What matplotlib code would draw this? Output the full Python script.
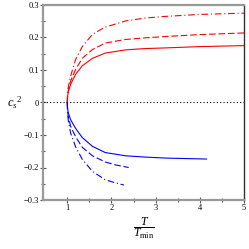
import matplotlib
matplotlib.use("Agg")
import matplotlib.pyplot as plt

plt.rcParams['mathtext.fontset'] = 'custom'
plt.rcParams['mathtext.rm'] = 'Liberation Serif'
plt.rcParams['mathtext.it'] = 'Liberation Serif:italic'
plt.rcParams['font.family'] = ['Liberation Serif', 'DejaVu Serif']

# Read-off data: T/Tmin and c_s^2
t_red = [1.0, 1.005, 1.02, 1.075, 1.19, 1.34, 1.57, 1.86, 2.32, 2.77, 3.23, 4.0, 5.0]
red_solid = [0.0, 0.016, 0.031, 0.056, 0.087, 0.113, 0.136, 0.152, 0.162, 0.166, 0.168, 0.172, 0.175]
red_dash = [0.0, 0.018, 0.035, 0.066, 0.102, 0.136, 0.163, 0.183, 0.194, 0.199, 0.203, 0.209, 0.214]
red_dashdot = [0.0, 0.022, 0.046, 0.081, 0.133, 0.172, 0.210, 0.232, 0.251, 0.260, 0.265, 0.271, 0.275]

t_blue_solid = [1.0, 1.005, 1.02, 1.075, 1.19, 1.34, 1.57, 1.86, 2.32, 2.77, 3.23, 4.15]
blue_solid = [0.0, -0.015, -0.031, -0.053, -0.080, -0.108, -0.135, -0.154, -0.164, -0.168, -0.171, -0.174]

t_blue_dash = [1.0, 1.005, 1.02, 1.075, 1.19, 1.34, 1.57, 1.86, 2.09, 2.39]
blue_dash = [0.0, -0.020, -0.042, -0.073, -0.106, -0.138, -0.164, -0.183, -0.192, -0.200]

t_blue_dashdot = [1.0, 1.005, 1.02, 1.075, 1.19, 1.34, 1.57, 1.86, 2.09, 2.28]
blue_dashdot = [0.0, -0.025, -0.053, -0.094, -0.137, -0.175, -0.212, -0.238, -0.247, -0.254]

x_ticks = [1, 2, 3, 4, 5]
y_ticks = [-0.3, -0.2, -0.1, 0, 0.1, 0.2, 0.3]
y_tick_labels = ['\u22120.3', '\u22120.2', '\u22120.1', '0', '0.1', '0.2', '0.3']

fig = plt.figure(figsize=(2.49, 2.49), dpi=100)
ax = fig.add_axes([43/249, 49/249, 201/249, 195/249])

lw = 0.8
dash = (0, (6, 2.5))
dashdot = (0, (6, 2.5, 1, 2.5))
ax.plot(t_red, red_solid, color='#ff0000', lw=lw)
ax.plot(t_red, red_dash, color='#ff0000', lw=lw, linestyle=dash)
ax.plot(t_red, red_dashdot, color='#ff0000', lw=lw, linestyle=dashdot)
ax.plot(t_blue_solid, blue_solid, color='#0000ff', lw=lw)
ax.plot(t_blue_dash, blue_dash, color='#0000ff', lw=lw, linestyle=dash)
ax.plot(t_blue_dashdot, blue_dashdot, color='#0000ff', lw=lw, linestyle=dashdot)
ax.axhline(0, color='black', lw=0.8, linestyle=(0, (1, 2)))

ax.set_xlim(0.45, 5.0)
ax.set_ylim(-0.3, 0.3)
ax.set_xticks(x_ticks)
ax.set_xticks([1.5, 2.5, 3.5, 4.5], minor=True)
ax.set_yticks(y_ticks)
ax.set_yticklabels(y_tick_labels)
ax.set_yticks([-0.25, -0.15, -0.05, 0.05, 0.15, 0.25], minor=True)

for s in ['left', 'bottom', 'top']:
    ax.spines[s].set_color('#999999')
    ax.spines[s].set_linewidth(1.6)
ax.spines['right'].set_color('#333333')
ax.spines['right'].set_linewidth(1.0)

ax.tick_params(which='major', direction='inout', length=4, width=0.8, color='#555555',
               labelsize=6, pad=1)
ax.tick_params(which='minor', direction='inout', length=2.5, width=0.8, color='#555555')

fig.text(15/249, 1 - 103/249, r'$c_s{}^{2}$', fontsize=9, ha='center', va='center')
fig.text(144/249, 1 - 228/249, r'$\dfrac{T}{T_{\mathrm{min}}}$', fontsize=8.5, ha='center', va='center')

fig.savefig('out.png', dpi=100)
